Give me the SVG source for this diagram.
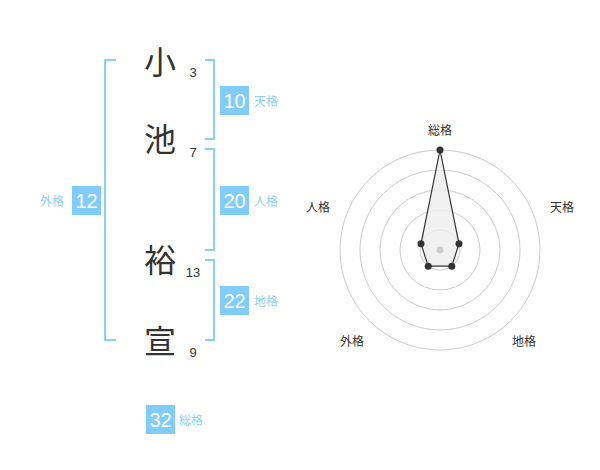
<svg xmlns="http://www.w3.org/2000/svg" width="600" height="470" viewBox="0 0 600 470">
<style>
.ch{font-family:"Noto Sans CJK JP","Noto Sans CJK SC",sans-serif;font-size:32px;fill:#333;text-anchor:middle}
.num{font-family:"Liberation Sans",Arial,sans-serif;font-size:13px;fill:#333;text-anchor:middle}
.br{fill:none;stroke:#8ccff8;stroke-width:2}
.box{fill:#80ccfa}
.bn{font-family:"Liberation Sans",Arial,sans-serif;font-size:20px;fill:#fff;text-anchor:middle}
.lb{font-family:"Noto Sans CJK JP","Noto Sans CJK SC",sans-serif;font-size:12px;fill:#8ccff8}
.ring{fill:none;stroke:#ccc;stroke-width:1}
.ax{font-family:"Noto Sans CJK JP","Noto Sans CJK SC",sans-serif;font-size:12px;fill:#333;text-anchor:middle}
.pt{fill:#333}
</style>
<rect width="600" height="470" fill="#fff"/>
<g id="chars">
<text class="ch" x="160" y="74">小</text>
<text class="ch" x="160" y="151">池</text>
<text class="ch" x="160" y="272">裕</text>
<text class="ch" x="160" y="353">宣</text>
<text class="num" x="193" y="77">3</text>
<text class="num" x="193" y="157">7</text>
<text class="num" x="193" y="277">13</text>
<text class="num" x="193" y="357">9</text>
</g>
<g id="connectors">
<path class="br" d="M116,60 H105 V340 H116"/>
<path class="br" d="M205,60 H214 V139 H205"/>
<path class="br" d="M205,149 H214 V250 H205"/>
<path class="br" d="M205,260 H214 V340 H205"/>
</g>
<g id="tenkaku">
<rect class="box" x="220" y="86" width="29" height="29"/>
<text class="bn" x="234.5" y="107.5">10</text>
<text class="lb" x="254" y="106">天格</text>
</g>
<g id="jinkaku">
<rect class="box" x="220" y="186" width="29" height="29"/>
<text class="bn" x="234.5" y="207.5">20</text>
<text class="lb" x="254" y="206">人格</text>
</g>
<g id="gaikaku">
<rect class="box" x="72" y="186" width="29" height="29"/>
<text class="bn" x="86.5" y="207.5">12</text>
<text class="lb" x="40" y="206">外格</text>
</g>
<g id="chikaku">
<rect class="box" x="220" y="286" width="29" height="29"/>
<text class="bn" x="234.5" y="307.5">22</text>
<text class="lb" x="254" y="306">地格</text>
</g>
<g id="soukaku">
<rect class="box" x="146" y="405" width="29" height="29"/>
<text class="bn" x="160.5" y="426.5">32</text>
<text class="lb" x="179" y="425">総格</text>
</g>
<g id="radar">
<circle class="ring" cx="440" cy="250" r="20"/>
<circle class="ring" cx="440" cy="250" r="40"/>
<circle class="ring" cx="440" cy="250" r="60"/>
<circle class="ring" cx="440" cy="250" r="80"/>
<circle class="ring" cx="440" cy="250" r="100"/>
<polygon points="440,150 459,243.8 451.8,266.2 428.2,266.2 421,243.8" fill="#eee" fill-opacity="0.8" stroke="#333" stroke-width="1.2"/>
<circle cx="440" cy="250" r="3.5" fill="#ccc"/>
<circle class="pt" cx="440" cy="150" r="3.5"/>
<circle class="pt" cx="459" cy="243.8" r="3.5"/>
<circle class="pt" cx="451.8" cy="266.2" r="3.5"/>
<circle class="pt" cx="428.2" cy="266.2" r="3.5"/>
<circle class="pt" cx="421" cy="243.8" r="3.5"/>
<text class="ax" x="440" y="135">総格</text>
<text class="ax" x="562" y="212">天格</text>
<text class="ax" x="318" y="212">人格</text>
<text class="ax" x="352" y="346">外格</text>
<text class="ax" x="524" y="346">地格</text>
</g>
</svg>
